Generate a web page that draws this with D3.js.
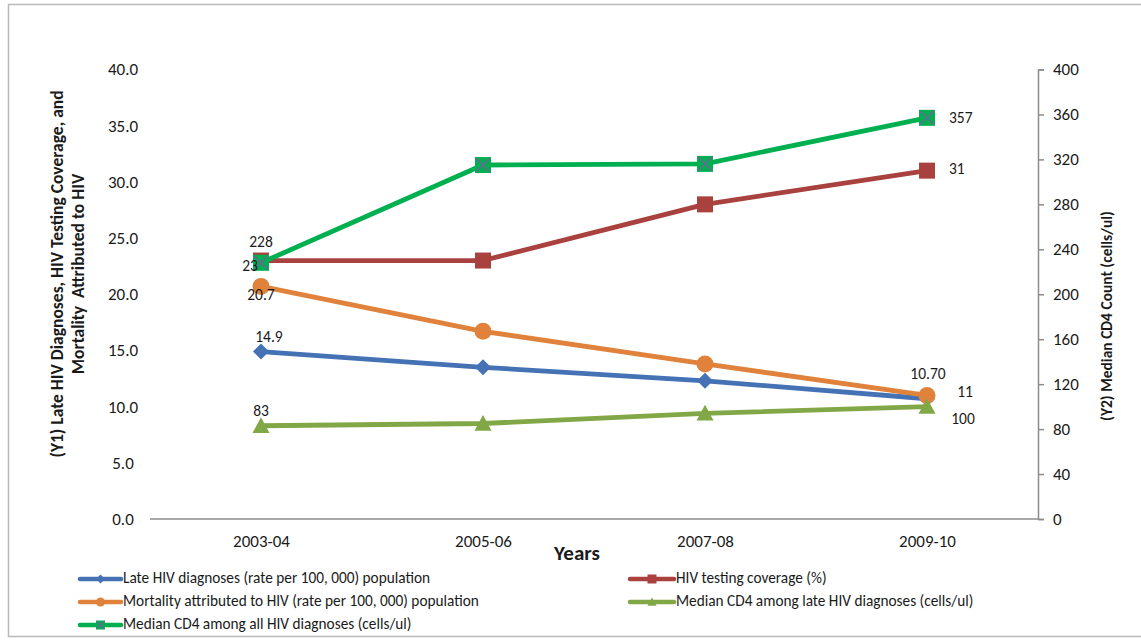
<!DOCTYPE html>
<html>
<head>
<meta charset="utf-8">
<script src="https://cdn.jsdelivr.net/npm/d3@7"></script>
<style>
  html, body { margin: 0; padding: 0; background: #ffffff; }
  svg { display: block; }
  text { font-family: Carlito, Calibri, Lato, "Open Sans", sans-serif; fill: #1a1a1a; }
</style>
</head>
<body>
<svg id="chart" width="1141" height="641"></svg>
<script>
// Periods on the x axis
const years = ["2003-04", "2005-06", "2007-08", "2009-10"];

// Primary axis series (rates and percentages)
const lateDiagnoses = [14.9, 13.5, 12.3, 10.7];
const testingCoverage = [23, 23, 28, 31];
const mortality = [20.7, 16.7, 13.8, 11];

// Secondary axis series (median CD4, cells/ul)
const cd4Late = [83, 85, 94, 100];
const cd4All = [228, 315, 316, 357];

// Axis ticks
const y1Ticks = [0, 5, 10, 15, 20, 25, 30, 35, 40];
const y2Ticks = [0, 40, 80, 120, 160, 200, 240, 280, 320, 360, 400];

// Values that carry a data label: [series, index, text]
const dataLabels = [
  ["cd4All", 0, "228"], ["cd4All", 3, "357"],
  ["testing", 0, "23"], ["testing", 3, "31"],
  ["mortality", 0, "20.7"], ["mortality", 3, "11"],
  ["late", 0, "14.9"], ["late", 3, "10.70"],
  ["cd4Late", 0, "83"], ["cd4Late", 3, "100"]
];

const svg = d3.select("#chart");

// Outer frame
svg.append("rect")
  .attr("x", 8.5).attr("y", 4.5)
  .attr("width", 1150).attr("height", 632)
  .attr("fill", "none").attr("stroke", "#b9b9b9").attr("stroke-width", 1.5);

const plotLeft = 150, plotRight = 1038, plotTop = 69.5, plotBottom = 519;

const x = d3.scalePoint().domain(years).range([plotLeft, plotRight]).padding(0.5);
const y1 = d3.scaleLinear().domain([0, 40]).range([plotBottom, plotTop]);
const y2 = d3.scaleLinear().domain([0, 400]).range([plotBottom, plotTop]);

const tickFont = "Carlito, Calibri, Lato, sans-serif";
const tickSize = 17;

// Left axis: labels only, centred in their column
const gy1 = svg.append("g").attr("transform", `translate(${plotLeft},0)`)
  .call(d3.axisLeft(y1).tickValues(y1Ticks).tickFormat(d3.format(".1f")).tickSize(0).tickPadding(0));
gy1.select(".domain").remove();
gy1.selectAll("text").attr("font-size", tickSize).attr("fill", "#1a1a1a").style("font-family", tickFont)
  .attr("text-anchor", "middle").attr("x", -27);

// Right axis with outward ticks
const gy2 = svg.append("g").attr("transform", `translate(${plotRight},0)`)
  .call(d3.axisRight(y2).tickValues(y2Ticks).tickSize(6).tickPadding(9));
gy2.select(".domain").attr("stroke", "#8c8c8c").attr("stroke-width", 1.5);
gy2.selectAll(".tick line").attr("stroke", "#8c8c8c").attr("stroke-width", 1.5);
gy2.selectAll("text").attr("font-size", tickSize).attr("fill", "#1a1a1a").style("font-family", tickFont);

// Category axis
const gx = svg.append("g").attr("transform", `translate(0,${plotBottom})`)
  .call(d3.axisBottom(x).tickSize(0).tickPadding(16));
gx.select(".domain").attr("stroke", "#8c8c8c").attr("stroke-width", 1.5)
  .attr("d", `M${plotLeft},0H${plotRight}`);
gx.selectAll("text").attr("font-size", tickSize).attr("fill", "#1a1a1a").style("font-family", tickFont);

// Axis titles
const y1Title = svg.append("text")
  .attr("transform", "translate(66,274) rotate(-90)")
  .attr("text-anchor", "middle").attr("font-size", 17.5).attr("font-weight", "bold")
  .style("white-space", "pre");
y1Title.append("tspan").attr("x", 0).attr("dy", "-0.17em")
  .text("(Y1) Late HIV Diagnoses, HIV Testing Coverage, and");
y1Title.append("tspan").attr("x", 0).attr("dy", "1.2em")
  .text("Mortality  Attributed to HIV");

svg.append("text")
  .attr("transform", "translate(1112,316) rotate(-90)")
  .attr("text-anchor", "middle").attr("font-size", 15.5).attr("font-weight", "bold")
  .text("(Y2) Median CD4 Count (cells/ul)");

svg.append("text")
  .attr("x", 577).attr("y", 560)
  .attr("text-anchor", "middle").attr("font-size", 21).attr("font-weight", "bold")
  .text("Years");

// Series definitions
const series = [
  { key: "late", name: "Late HIV diagnoses (rate per 100, 000) population", values: lateDiagnoses, scale: y1, color: "#4472b4", marker: "diamond" },
  { key: "testing", name: "HIV testing coverage (%)", values: testingCoverage, scale: y1, color: "#a9413f", marker: "square" },
  { key: "mortality", name: "Mortality attributed to HIV (rate per 100, 000) population", values: mortality, scale: y1, color: "#e0823b", marker: "circle" },
  { key: "cd4Late", name: "Median CD4 among late HIV diagnoses (cells/ul)", values: cd4Late, scale: y2, color: "#82a746", marker: "triangle" },
  { key: "cd4All", name: "Median CD4 among all HIV diagnoses (cells/ul)", values: cd4All, scale: y2, color: "#00b050", marker: "squareX" }
];

function drawMarker(g, type, cx, cy, s, color) {
  const h = s / 2;
  if (type === "diamond") {
    g.append("path").attr("d", `M${cx},${cy - h}L${cx + h},${cy}L${cx},${cy + h}L${cx - h},${cy}Z`).attr("fill", color);
  } else if (type === "square") {
    g.append("rect").attr("x", cx - h).attr("y", cy - h).attr("width", s).attr("height", s).attr("fill", color);
  } else if (type === "circle") {
    g.append("circle").attr("cx", cx).attr("cy", cy).attr("r", h).attr("fill", color);
  } else if (type === "triangle") {
    g.append("path").attr("d", `M${cx},${cy - h}L${cx + h},${cy + h * 0.85}L${cx - h},${cy + h * 0.85}Z`).attr("fill", color);
  } else if (type === "squareX") {
    g.append("rect").attr("x", cx - h).attr("y", cy - h).attr("width", s).attr("height", s).attr("fill", color);
    const k = h * 0.85;
    g.append("path").attr("d", `M${cx - k},${cy - k}L${cx + k},${cy + k}M${cx - k},${cy + k}L${cx + k},${cy - k}`)
      .attr("stroke", "#7560a0").attr("stroke-width", Math.max(1.2, s / 12)).attr("fill", "none");
  }
}

const markerSize = { diamond: 16, square: 16, circle: 17, triangle: 17, squareX: 16 };

series.forEach(s => {
  const g = svg.append("g");
  const line = d3.line().x((d, i) => x(years[i])).y(d => s.scale(d));
  g.append("path").datum(s.values).attr("d", line)
    .attr("fill", "none").attr("stroke", s.color).attr("stroke-width", 4.8).attr("stroke-linejoin", "round");
  s.values.forEach((v, i) => drawMarker(g, s.marker, x(years[i]), s.scale(v), markerSize[s.marker], s.color));
});

// Data label placement relative to each point
const labelOffset = {
  "cd4All-0": [0, -19, "middle"], "cd4All-3": [22, 1, "start"],
  "testing-0": [-11, 7, "middle"], "testing-3": [22, 0, "start"],
  "mortality-0": [0, 10, "middle"], "mortality-3": [38, -2, "middle"],
  "late-0": [8, -13.5, "middle"], "late-3": [1, -23, "middle"],
  "cd4Late-0": [0, -13, "middle"], "cd4Late-3": [36, 14, "middle"]
};
const lookup = Object.fromEntries(series.map(s => [s.key, s]));
dataLabels.forEach(([k, i, txt]) => {
  const s = lookup[k];
  const [dx, dy, anchor] = labelOffset[`${k}-${i}`];
  svg.append("text")
    .attr("x", x(years[i]) + dx).attr("y", s.scale(s.values[i]) + dy)
    .attr("text-anchor", anchor).attr("dominant-baseline", "middle")
    .attr("font-size", 15.5).text(txt);
});

// Legend: two columns, filled row by row
const legendCols = [80, 630];
const legendRows = [579, 602, 625];
series.forEach((s, idx) => {
  const col = idx % 2, row = Math.floor(idx / 2);
  const lx = legendCols[col], ly = legendRows[row];
  const lw = col === 0 ? 41 : 44;
  const g = svg.append("g");
  g.append("line").attr("x1", lx).attr("x2", lx + lw).attr("y1", ly).attr("y2", ly)
    .attr("stroke", s.color).attr("stroke-width", 4.5).attr("stroke-linecap", "round");
  drawMarker(g, s.marker, lx + lw / 2, ly, 9, s.color);
  g.append("text").attr("x", lx + lw + 2).attr("y", ly).attr("dominant-baseline", "middle")
    .attr("font-size", 15.3).text(s.name);
});
</script>
</body>
</html>
